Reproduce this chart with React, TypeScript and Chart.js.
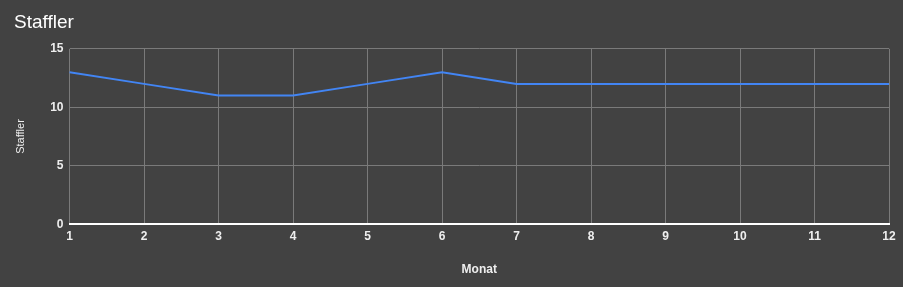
import React, { useEffect, useRef } from "react";
import { Chart, registerables } from "chart.js";
Chart.register(...registerables);

const months = ["1", "2", "3", "4", "5", "6", "7", "8", "9", "10", "11", "12"];
const staffler = [13, 12, 11, 11, 12, 13, 12, 12, 12, 12, 12, 12];
const chartTitle = "Staffler";
const xTitle = "Monat";
const yTitle = "Staffler";

export default function App() {
  const ref = useRef<HTMLCanvasElement>(null);
  useEffect(() => {
    document.body.style.margin = "0";
    document.body.style.background = "#424242";
    const ctx = ref.current!;
    const chart = new Chart(ctx, {
      type: "line",
      data: {
        labels: months,
        datasets: [
          {
            label: yTitle,
            data: staffler,
            borderColor: "#4285f4",
            backgroundColor: "#4285f4",
            borderWidth: 2,
            pointRadius: 0,
            tension: 0,
          },
        ],
      },
      options: {
        animation: false,
        responsive: false,
        maintainAspectRatio: false,
        layout: { padding: { left: 14, right: 14, top: 11, bottom: 10 } },
        plugins: {
          legend: { display: false },
          tooltip: { enabled: false },
          title: {
            display: true,
            text: chartTitle,
            align: "start",
            color: "#ffffff",
            font: { family: "Arial, Liberation Sans", size: 19, weight: "normal" },
            padding: { top: 0, bottom: 15 },
          },
        },
        scales: {
          x: {
            type: "category",
            offset: false,
            grid: { color: "#7a7a7a", drawTicks: false, lineWidth: 1 },
            border: { color: "#ffffff", width: 2 },
            ticks: {
              color: "#eeeeee",
              padding: 5,
              maxRotation: 0,
              font: { family: "Arial, Liberation Sans", size: 12, weight: "bold" },
            },
            title: {
              display: true,
              text: xTitle,
              color: "#eeeeee",
              font: { family: "Arial, Liberation Sans", size: 12, weight: "bold" },
              padding: { top: 14, bottom: 0 },
            },
          },
          y: {
            min: 0,
            max: 15,
            grid: { color: "#7a7a7a", drawTicks: false, lineWidth: 1 },
            border: { display: false },
            ticks: {
              stepSize: 5,
              color: "#eeeeee",
              padding: 6,
              font: { family: "Arial, Liberation Sans", size: 12, weight: "bold" },
            },
            title: {
              display: true,
              text: yTitle,
              color: "#eeeeee",
              font: { family: "Arial, Liberation Sans", size: 11, weight: "normal" },
              padding: { top: 0, bottom: 17 },
            },
          },
        },
      },
    });
    return () => chart.destroy();
  }, []);
  return (
    <div style={{ width: 903, height: 287, background: "#424242" }}>
      <canvas ref={ref} width={903} height={287} style={{ display: "block" }} />
    </div>
  );
}
